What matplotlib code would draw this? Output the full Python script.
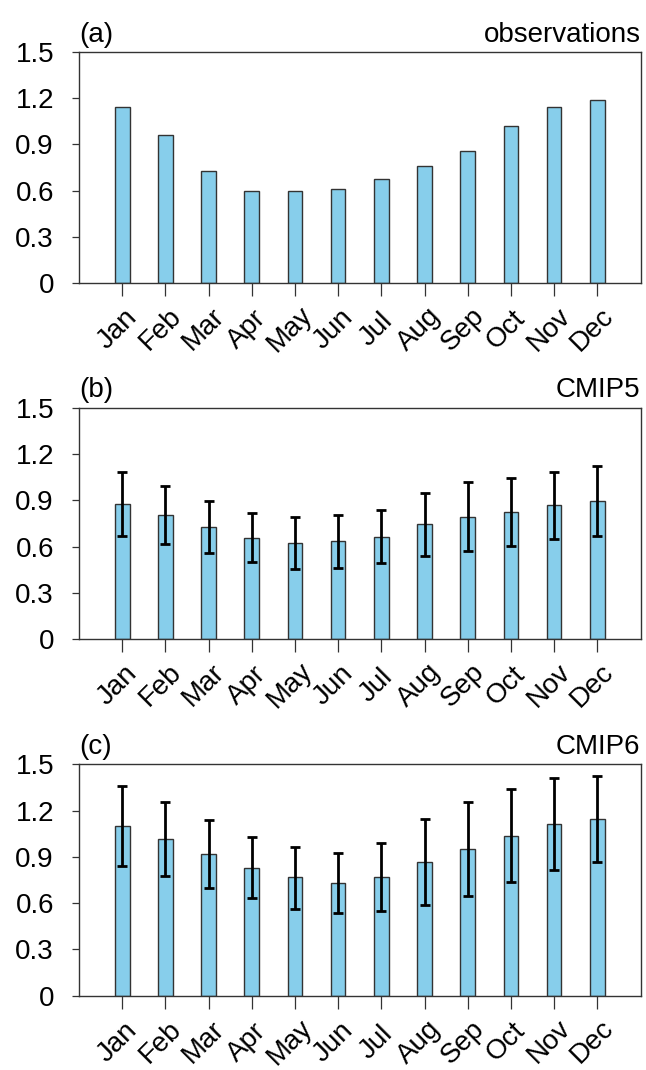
import matplotlib
matplotlib.use("Agg")
import matplotlib.pyplot as plt
from matplotlib.transforms import ScaledTranslation

plt.rcParams['font.family'] = ['Liberation Sans', 'DejaVu Sans']

months = ['Jan', 'Feb', 'Mar', 'Apr', 'May', 'Jun',
          'Jul', 'Aug', 'Sep', 'Oct', 'Nov', 'Dec']

obs = [1.14, 0.96, 0.73, 0.595, 0.598, 0.61, 0.673, 0.758, 0.855, 1.017, 1.14, 1.19]

cmip5_mean = [0.874, 0.807, 0.725, 0.658, 0.624, 0.635, 0.665, 0.745, 0.794, 0.827, 0.868, 0.896]
cmip5_low = [0.667, 0.615, 0.557, 0.499, 0.458, 0.462, 0.492, 0.540, 0.574, 0.607, 0.650, 0.669]
cmip5_high = [1.086, 0.995, 0.894, 0.816, 0.790, 0.805, 0.840, 0.948, 1.019, 1.047, 1.086, 1.120]

cmip6_mean = [1.100, 1.014, 0.916, 0.830, 0.767, 0.730, 0.769, 0.867, 0.949, 1.035, 1.115, 1.148]
cmip6_low = [0.841, 0.774, 0.700, 0.631, 0.564, 0.534, 0.547, 0.590, 0.644, 0.735, 0.817, 0.864]
cmip6_high = [1.359, 1.256, 1.139, 1.029, 0.964, 0.927, 0.990, 1.148, 1.256, 1.338, 1.411, 1.426]

yticks = [0, 0.3, 0.6, 0.9, 1.2, 1.5]
ytick_labels = ['0', '0.3', '0.6', '0.9', '1.2', '1.5']

panel_tags = ['(a)', '(b)', '(c)']
panel_titles = ['observations', 'CMIP5', 'CMIP6']

W, H = 646, 1070
fig = plt.figure(figsize=(W / 100, H / 100), dpi=100)

left = 79 / W
width = (640.5 - 79) / W
tops = [52, 407.7, 764.3]
bottoms = [283, 639.3, 995.7]

bar_color = '#87CEEB'
edge_color = '#333333'
FS = 20
x = list(range(1, 13))

series = [
    (obs, None, None),
    (cmip5_mean, cmip5_low, cmip5_high),
    (cmip6_mean, cmip6_low, cmip6_high),
]

for i, (vals, lo, hi) in enumerate(series):
    ax = fig.add_axes([left, 1 - bottoms[i] / H, width, (bottoms[i] - tops[i]) / H])
    ax.bar(x, vals, width=0.34, color=bar_color, edgecolor=edge_color,
           linewidth=1.0, zorder=2)
    if lo is not None:
        yerr = [[m - l for m, l in zip(vals, lo)], [h - m for m, h in zip(vals, hi)]]
        ax.errorbar(x, vals, yerr=yerr, fmt='none', ecolor='black',
                    elinewidth=2.0, capsize=3.4, capthick=2.0, zorder=3)
    ax.set_xlim(0, 13)
    ax.set_ylim(0, 1.5)
    ax.set_yticks(yticks)
    ax.set_yticklabels(ytick_labels, fontsize=FS)
    ax.set_xticks(x)
    ax.set_xticklabels(months, fontsize=FS, rotation=45, ha='center',
                       va='center', rotation_mode='anchor')
    ax.tick_params(axis='y', direction='out', length=5, width=0.9,
                   color=edge_color, pad=13)
    ax.tick_params(axis='x', direction='out', length=9.4, width=0.9,
                   color=edge_color, pad=24)
    offset = ScaledTranslation(-5 / 100, 0, fig.dpi_scale_trans)
    for lab in ax.get_xticklabels():
        lab.set_transform(lab.get_transform() + offset)
    for sp in ax.spines.values():
        sp.set_color(edge_color)
        sp.set_linewidth(1.0)
    ax.set_title(panel_tags[i], loc='left', fontsize=FS, pad=7.5)
    ax.set_title(panel_titles[i], loc='right', fontsize=FS, pad=7.5)

fig.savefig('out.png', dpi=100)
